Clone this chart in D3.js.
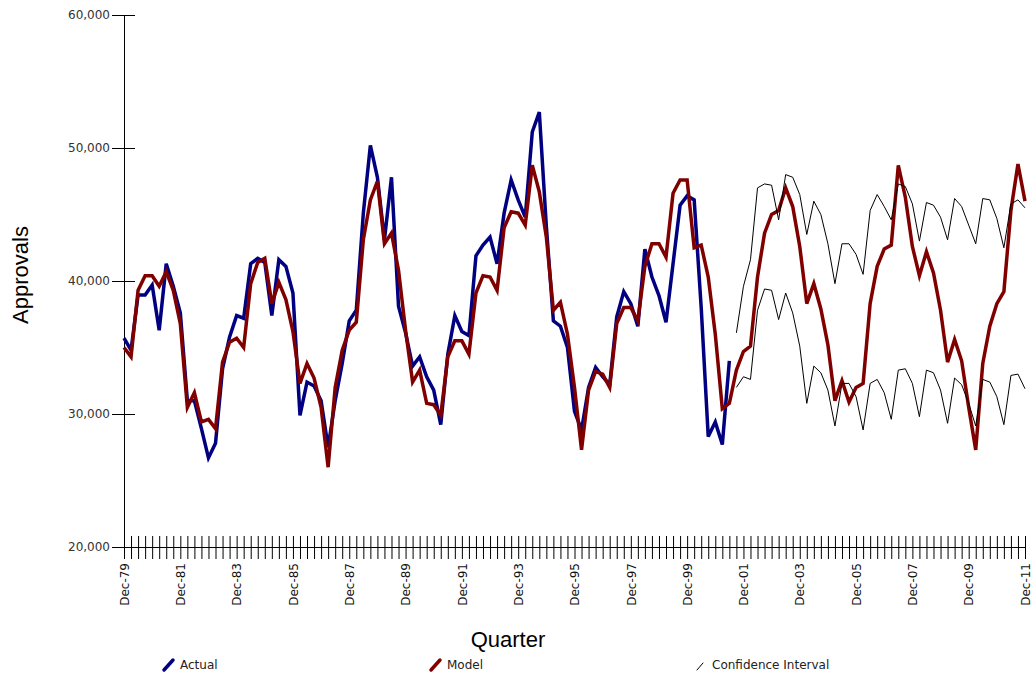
<!DOCTYPE html>
<html>
<head>
<meta charset="utf-8">
<script src="https://cdn.jsdelivr.net/npm/d3@7"></script>
<style>
  body { margin: 0; background: #fff; overflow: hidden; }
  svg { display: block; }
</style>
</head>
<body>
<div id="chart"></div>
<script>
// --- data ---
const quarters = [];
const months = ["Dec", "Mar", "Jun", "Sep"];
for (let k = 0; k <= 128; k++) {
  const yr = 1979 + Math.ceil(k / 4);
  quarters.push(months[k % 4] + "-" + String(yr % 100).padStart(2, "0"));
}

const tickLabels = ["Dec-79", "Dec-81", "Dec-83", "Dec-85", "Dec-87", "Dec-89", "Dec-91", "Dec-93",
  "Dec-95", "Dec-97", "Dec-99", "Dec-01", "Dec-03", "Dec-05", "Dec-07", "Dec-09", "Dec-11"];

const yTicks = [20000, 30000, 40000, 50000, 60000];

// Dec-79 .. Jun-01
const actual = [
  35700, 34800, 38950, 38950, 39700, 36300, 41300, 39600, 37600, 31000,
  31000, 28900, 26700, 27800, 33400, 35800, 37400, 37200, 41300, 41700,
  41400, 37400, 41600, 41100, 39100, 29900, 32400, 32100, 31000, 27500,
  31000, 33800, 37000, 37800, 45100, 50200, 47800, 43100, 47800, 38100,
  36100, 33600, 34300, 32800, 31800, 29200, 34500, 37400, 36200, 35900,
  41900, 42700, 43300, 41300, 45100, 47600, 46100, 44800, 51200, 52700,
  44100, 37000, 36600, 35000, 30200, 28800, 32000, 33500, 32800, 32200,
  37300, 39200, 38300, 36600, 42400, 40300, 38900, 36900, 41300, 45700,
  46400, 46100, 38000, 28300, 29400, 27700, 34000
];

// Dec-79 .. Dec-11
const model = [
  35000, 34300, 39300, 40400, 40400, 39600, 40700, 39300, 36800, 30500,
  31600, 29400, 29600, 28900, 33900, 35400, 35700, 35000, 39800, 41400,
  41700, 38300, 39900, 38600, 36200, 32300, 33800, 32700, 30500, 26000,
  32000, 34800, 36300, 36900, 43100, 46100, 47500, 42800, 43600, 40800,
  36300, 32400, 33300, 30800, 30700, 29900, 34300, 35500, 35500, 34500,
  39100, 40400, 40300, 39300, 44000, 45200, 45100, 44200, 48700, 46700,
  43300, 37800, 38400, 36000, 32000, 27300, 31800, 33200, 33000, 32000,
  36800, 38000, 38000, 37000, 41100, 42800, 42800, 41800, 46600, 47600,
  47600, 42500, 42700, 40300, 36000, 30400, 30800, 33300, 34700, 35100,
  40300, 43600, 45000, 45300, 47000, 45600, 42600, 38300, 39800, 37900,
  35200, 31000, 32500, 30900, 32000, 32300, 38300, 41100, 42400, 42700,
  48700, 46300, 42600, 40400, 42200, 40600, 37800, 33900, 35600, 34000,
  30500, 27300, 33800, 36600, 38300, 39200, 45300, 48800, 46000
];

// Sep-01 .. Dec-11
const ciStart = "Sep-01";
const ciUpper = [
  36100, 39600, 41600, 47000, 47300, 47200, 44600, 48000, 47800, 46500,
  43500, 46000, 45000, 42800, 39800, 42800, 42800, 42000, 40500, 45300,
  46500, 45600, 44600, 47300, 47100, 45800, 43000, 45900, 45700, 44800,
  43100, 46200, 45600, 44200, 42800, 46200, 46100, 44700, 42500, 45800,
  46100, 45500
];
const ciLower = [
  32000, 32800, 32600, 37800, 39400, 39300, 37100, 39100, 37600, 35100,
  30800, 33600, 33100, 31800, 29100, 32300, 32300, 31300, 28800, 32300,
  32600, 31600, 29600, 33300, 33400, 32300, 29800, 33300, 33100, 31800,
  29300, 32700, 32200, 30800, 29100, 32600, 32400, 31300, 29200, 32900,
  33000, 31900
];

// --- drawing ---
const width = 1032, height = 674;
const svg = d3.select("#chart").append("svg")
  .attr("width", width)
  .attr("height", height);

const x = d3.scalePoint().domain(quarters).range([124, 1025]);
const y = d3.scaleLinear().domain([20000, 60000]).range([547, 15]);

const ciOffset = quarters.indexOf(ciStart);
const toPoints = (vals, offset) => vals.map((v, i) => [quarters[i + offset], v]);

const line = d3.line()
  .x(d => x(d[0]))
  .y(d => y(d[1]));

// y axis
const yAxis = svg.append("g")
  .attr("transform", `translate(${x(quarters[0])},0)`)
  .call(d3.axisLeft(y).tickValues(yTicks).tickFormat(d3.format(",")).tickSizeInner(12).tickSizeOuter(0).tickPadding(2));
yAxis.selectAll(".tick line").attr("x1", 11);
yAxis.selectAll("text")
  .style("font-family", "'DejaVu Sans', sans-serif")
  .style("font-size", "12px")
  .attr("fill", "#333");

// x axis: a tick every quarter, label every second December
const xAxis = svg.append("g")
  .attr("transform", `translate(0,${y(20000)})`)
  .call(d3.axisBottom(x).tickSizeInner(12).tickSizeOuter(0)
    .tickFormat(d => tickLabels.includes(d) ? d : ""));
xAxis.selectAll(".tick line").attr("y1", -11);
xAxis.selectAll("text")
  .attr("transform", "rotate(-90)")
  .attr("y", 0)
  .attr("x", -16)
  .attr("dy", "0.35em")
  .style("text-anchor", "end")
  .style("font-family", "'DejaVu Sans', sans-serif")
  .style("font-size", "12px")
  .attr("fill", "#111");

// series
svg.append("path")
  .datum(toPoints(actual, 0))
  .attr("fill", "none")
  .attr("stroke", "#000080")
  .attr("stroke-width", 3.5)
  .attr("d", line);

svg.append("path")
  .datum(toPoints(model, 0))
  .attr("fill", "none")
  .attr("stroke", "#800000")
  .attr("stroke-width", 3.5)
  .attr("d", line);

[ciUpper, ciLower].forEach(vals => {
  svg.append("path")
    .datum(toPoints(vals, ciOffset))
    .attr("fill", "none")
    .attr("stroke", "#000")
    .attr("stroke-width", 1)
    .attr("d", line);
});

// axis titles
svg.append("text")
  .attr("transform", "translate(28,275) rotate(-90)")
  .attr("text-anchor", "middle")
  .style("font-family", "'Liberation Sans', Arial, sans-serif")
  .style("font-size", "22px")
  .text("Approvals");

svg.append("text")
  .attr("x", 508)
  .attr("y", 647)
  .attr("text-anchor", "middle")
  .style("font-family", "'Liberation Sans', Arial, sans-serif")
  .style("font-size", "22px")
  .text("Quarter");

// legend
const legendItems = [
  { label: "Actual", col: "#000080", w: 3.5, x: 164, dx: 9, dy: 10 },
  { label: "Model", col: "#800000", w: 3.5, x: 431, dx: 9, dy: 10 },
  { label: "Confidence Interval", col: "#000", w: 1, x: 697, dx: 6, dy: 7 }
];
const legend = svg.append("g");
legendItems.forEach(item => {
  legend.append("line")
    .attr("x1", item.x).attr("y1", 670)
    .attr("x2", item.x + item.dx).attr("y2", 670 - item.dy)
    .attr("stroke", item.col)
    .attr("stroke-width", item.w)
    .attr("stroke-linecap", "round");
  legend.append("text")
    .attr("x", item.x + (item.w > 1 ? 16 : 15))
    .attr("y", 669)
    .style("font-family", "'DejaVu Sans', sans-serif")
    .style("font-size", "12px")
    .attr("fill", "#222")
    .text(item.label);
});
</script>
</body>
</html>
